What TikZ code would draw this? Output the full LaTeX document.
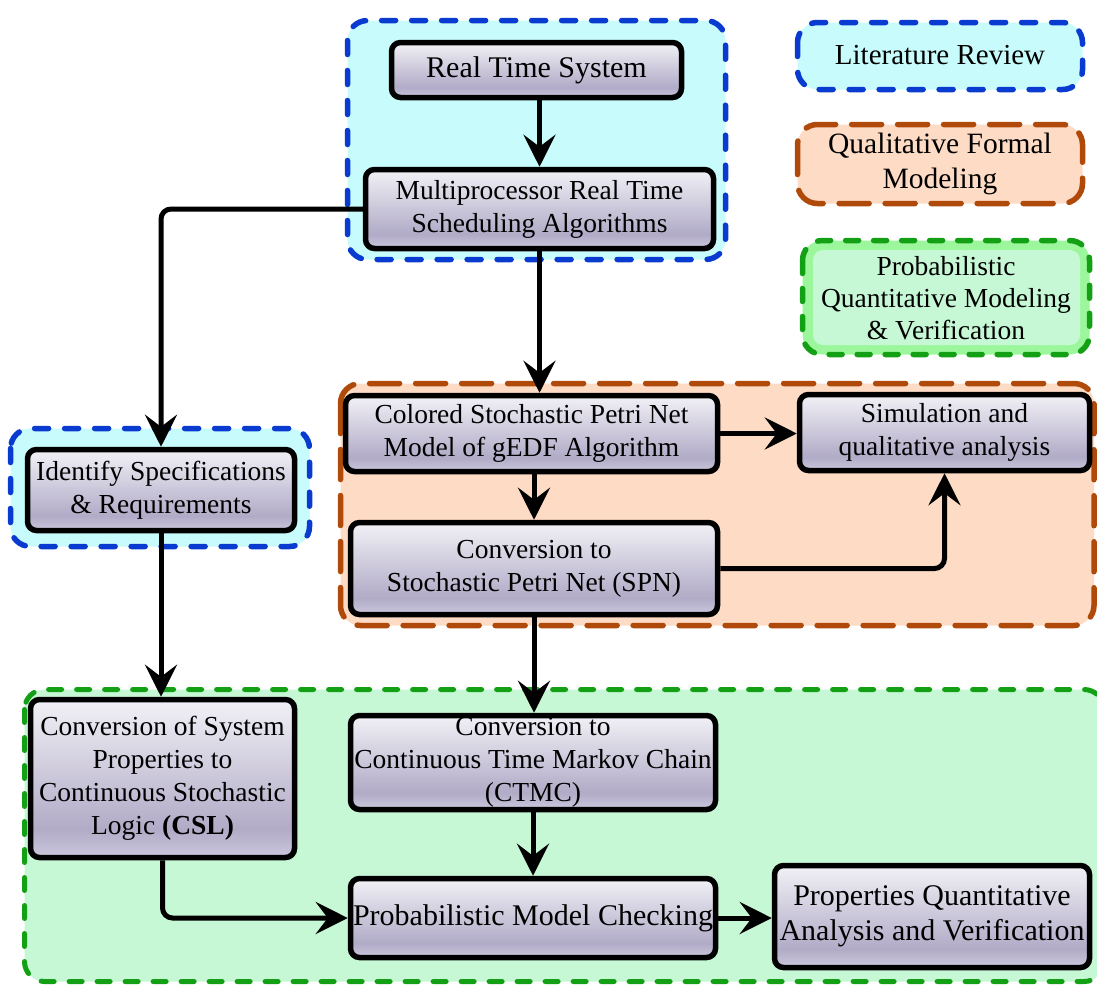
\documentclass[tikz,border=0pt]{standalone}
\usepackage{fontspec}
\setmainfont{Liberation Serif}
\usetikzlibrary{arrows.meta,calc}

% palette
\definecolor{litblue}{HTML}{0A3BD0}
\definecolor{litfill}{HTML}{C8FCFC}
\definecolor{qualbrown}{HTML}{B04A0A}
\definecolor{qualfill}{HTML}{FDDBC4}
\definecolor{probgreen}{HTML}{14A014}
\definecolor{probfill}{HTML}{C6F8D6}
\definecolor{probband}{HTML}{9CF79C}
\definecolor{shtop}{HTML}{F2F1F6}
\definecolor{shmid}{HTML}{B1ABC7}
\definecolor{shbot}{HTML}{CCC8DD}

% light at the top, darkest near the bottom, slightly lighter at the very bottom
\pgfdeclareverticalshading{boxshade}{100bp}{color(0bp)=(shbot); color(25bp)=(shbot); color(34bp)=(shmid); color(75bp)=(shtop); color(100bp)=(shtop)}

\tikzset{
  proc/.style={draw=black, line width=5.5pt, rounded corners=9pt, shading=boxshade,
    align=center, inner sep=0pt, font=\fontsize{27.5}{33}\selectfont},
  bigtext/.style={font=\fontsize{30}{35}\selectfont},
  arr/.style={line width=5pt, -{Stealth[length=32pt,width=32pt,inset=12pt]}},
  litgroup/.style={draw=litblue, fill=litfill, line width=5.5pt, line cap=round,
    dash pattern=on 14pt off 16pt, rounded corners=20pt},
  qualgroup/.style={draw=qualbrown, fill=qualfill, line width=5.5pt, line cap=round,
    dash pattern=on 30pt off 16pt, rounded corners=20pt},
  probgroup/.style={draw=probgreen, fill=probfill, line width=5pt, line cap=round,
    dash pattern=on 13pt off 15pt, rounded corners=20pt},
  legendtext/.style={align=center, inner sep=0pt, font=\fontsize{27.5}{32}\selectfont},
}

\begin{document}
\begin{tikzpicture}[x=1pt, y=-1pt]
\useasboundingbox (0,0) rectangle (1097,985);

% ---- grouping regions ----
\draw[litgroup]  (347.5,20.5) rectangle (725.5,259.5);
\draw[litgroup]  (10.5,428.5) rectangle (309.5,546.5);
\draw[qualgroup] (340.5,383.5) rectangle (1094,625.5);
\draw[probgroup] (24.5,689.5) rectangle (1104,981.5);

% ---- legend ----
\draw[litgroup]  (797.5,22.5) rectangle (1082.5,89.5);
\node[legendtext, font=\fontsize{29}{34}\selectfont] (leglit) at (940,55) {Literature Review};
\draw[qualgroup] (797.5,124.5) rectangle (1082.5,203.5);
\node[legendtext, font=\fontsize{29.5}{35}\selectfont] (legqual) at (940,164) {Qualitative Formal\\Modeling};
\draw[probgroup, fill=probband, line width=5.5pt] (802.5,240.5) rectangle (1089.5,354.5);
\fill[probfill, rounded corners=10pt] (813,250) rectangle (1080,345);
\node[legendtext] (legprob) at (946,298) {Probabilistic\\Quantitative Modeling\\\& Verification};

% ---- process boxes ----
\node[proc, bigtext, minimum width=290pt, minimum height=55pt] (rts) at (536.5,70) {Real Time System};
\node[proc, minimum width=348pt, minimum height=79pt] (msa) at (539.5,209) {Multiprocessor Real Time\\Scheduling Algorithms};
\node[proc, minimum width=372pt, minimum height=76pt] (cspn) at (531.5,433.5) {Colored Stochastic Petri Net\\Model of gEDF Algorithm};
\node[proc, minimum width=290pt, minimum height=76pt] (sim) at (944.5,432.5) {Simulation and\\qualitative analysis};
\node[proc, minimum width=367pt, minimum height=92pt] (spn) at (534,568.5) {Conversion to\\Stochastic Petri Net (SPN)};
\node[proc, minimum width=267pt, minimum height=81pt] (isr) at (161,490) {Identify Specifications\\\& Requirements};
\node[proc, minimum width=264pt, minimum height=158pt] (csl) at (162.5,778.5) {Conversion of System\\Properties to\\Continuous Stochastic\\Logic \textbf{(CSL)}};
\node[proc, minimum width=365pt, minimum height=94pt] (ctmc) at (533,762.5) {\rule{0pt}{4pt}Conversion to\\Continuous Time Markov Chain\\(CTMC)};
\node[proc, bigtext, minimum width=365pt, minimum height=79pt] (pmc) at (533,918) {Probabilistic Model Checking};
\node[proc, bigtext, minimum width=315pt, minimum height=102pt] (pqav) at (932,916.5) {Properties Quantitative\\Analysis and Verification};

% ---- connectors ----
\draw[arr] (rts.south -| msa.north) -- (msa.north);
\draw[arr] (msa.south) -- (msa.south |- cspn.north);
\draw[arr, rounded corners=10pt] (msa.west) -| (isr.north);
\draw[arr] (isr.south) -- (isr.south |- csl.north);
\draw[arr] (cspn.east) -- (cspn.east -| sim.west);
\draw[arr] (spn.north |- cspn.south) -- (spn.north);
\draw[arr, rounded corners=10pt] (spn.east) -| (sim.south);
\draw[arr] (spn.south) -- (spn.south |- ctmc.north);
\draw[arr] (ctmc.south) -- (ctmc.south |- pmc.north);
\draw[arr, rounded corners=10pt] (csl.south) |- (pmc.west);
\draw[arr] (pmc.east) -- (pmc.east -| pqav.west);
\end{tikzpicture}
\end{document}
